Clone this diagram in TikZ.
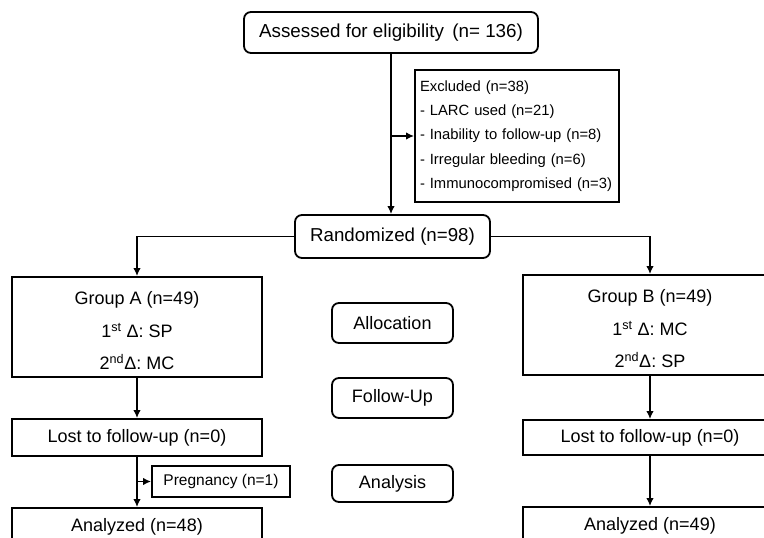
\documentclass[tikz,border=0pt]{standalone}
\usepackage{fontspec}
\setmainfont{Liberation Sans}
\usetikzlibrary{arrows.meta}
\begin{document}
\begin{tikzpicture}[
			x=1pt,y=-1pt,
			line width=1.8pt,
			box/.style={draw,rectangle,align=center,inner sep=0pt,font=\fontsize{18}{32.5}\selectfont},
			roundbox/.style={box,rounded corners=7pt},
			smallbox/.style={box,font=\fontsize{15}{24.2}\selectfont},
			flow/.style={-{Latex[length=8pt,width=7.5pt]}}
		]
		\useasboundingbox (0,0) rectangle (764,538);
		\clip (0,0) rectangle (764,538);
		\node[roundbox,minimum width=294pt,minimum height=41pt,font=\fontsize{18.8}{22}\selectfont] (assess) at (391,32.5) {Assessed for eligibility\, (n= 136)};
		\node[smallbox,minimum height=132pt,text width=194pt,align=left,inner xsep=5pt,font=\fontsize{14.8}{24.2}\selectfont] (excl) at (517,136)
			{Excluded (n=38)\\- LARC used (n=21)\\- Inability to follow-up (n=8)\\- Irregular bleeding (n=6)\\- Immunocompromised (n=3)};
		\node[roundbox,minimum width=195pt,minimum height=43pt,font=\fontsize{18.7}{22}\selectfont] (rand) at (392.5,236.5) {Randomized (n=98)};
		\node[box,minimum width=250pt,minimum height=100pt] (grpA) at (137,327)
			{\rule{0pt}{21pt}Group A (n=49)\\1\textsuperscript{st} Δ: SP\\2\textsuperscript{nd}Δ: MC};
		\node[box,minimum width=254pt,minimum height=100pt] (grpB) at (650,325)
			{\rule{0pt}{21pt}Group B (n=49)\\1\textsuperscript{st} Δ: MC\\2\textsuperscript{nd}Δ: SP};
		\node[roundbox,minimum width=121pt,minimum height=40pt] (alloc) at (392.5,323) {Allocation};
		\node[roundbox,minimum width=121pt,minimum height=40pt] (follow) at (392.5,398) {Follow-Up};
		\node[roundbox,minimum width=121pt,minimum height=37pt] (analysis) at (392.5,483.5) {Analysis};
		\node[box,minimum width=250pt,minimum height=37pt] (lostA) at (137,437.5) {Lost to follow-up (n=0)};
		\node[box,minimum width=254pt,minimum height=35pt] (lostB) at (650,437.5) {Lost to follow-up (n=0)};
		\node[smallbox,minimum width=138pt,minimum height=31pt,font=\fontsize{15.5}{20}\selectfont] (preg) at (221,481.5) {Pregnancy (n=1)};
		\node[box,minimum width=250pt,minimum height=38pt] (anaA) at (137,527) {Analyzed (n=48)};
		\node[box,minimum width=254pt,minimum height=38pt] (anaB) at (650,526) {Analyzed (n=49)};
		\draw[flow] (assess.south) -- (assess.south |- rand.north);
		\draw[flow] (assess.south |- excl.west) -- (excl.west);
		\draw[flow] (rand.west) -| (grpA.north);
		\draw[flow] (rand.east) -| (grpB.north);
		\draw[flow] (grpA.south) -- (lostA.north);
		\draw[flow] (lostA.south) -- (anaA.north);
		\draw[flow] (lostA.south |- preg.west) -- (preg.west);
		\draw[flow] (grpB.south) -- (lostB.north);
		\draw[flow] (lostB.south) -- (anaB.north);
	\end{tikzpicture}
\end{document}
